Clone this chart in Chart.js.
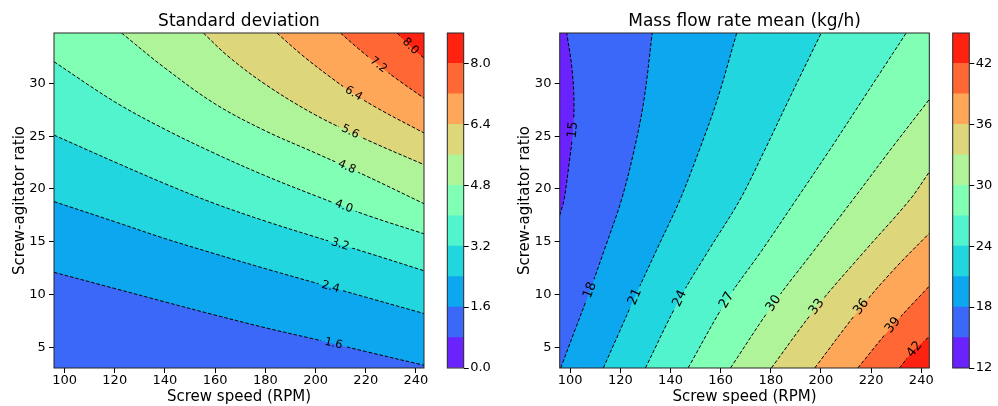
<!doctype html>
<html lang="en">
<head>
<meta charset="UTF-8" />
<title>Contour maps</title>
<style>
  html, body { margin: 0; padding: 0; background: #fff; }
  #wrap { position: relative; width: 998px; height: 406px; }
  canvas { position: absolute; top: 0; }
</style>
</head>
<body>
<div id="wrap">
  <canvas id="sdChart" width="434" height="406" style="left:0px"></canvas>
  <canvas id="sdBar" width="60" height="406" style="left:440px"></canvas>
  <canvas id="mfChart" width="434" height="406" style="left:505px"></canvas>
  <canvas id="mfBar" width="53" height="406" style="left:945px"></canvas>
</div>
<script src="https://cdn.jsdelivr.net/npm/chart.js"></script>
<script>
// axis ranges and ticks
const xMin = 95.8, xMax = 243.2;
const yMin = 3.04, yMax = 34.77;
const xTicks = [100, 120, 140, 160, 180, 200, 220, 240];
const yTicks = [5, 10, 15, 20, 25, 30];

// standard deviation
const sdLevels = [0, 0.8, 1.6, 2.4, 3.2, 4.0, 4.8, 5.6, 6.4, 7.2, 8.0, 8.8];
const sdBarTicks = [0, 1.6, 3.2, 4.8, 6.4, 8.0];
const sdLineLevels = [1.6, 2.4, 3.2, 4.0, 4.8, 5.6, 6.4, 7.2, 8.0];
const sdLines = [
    [[95.8, 12.1], [120, 10.57], [140, 9.3], [160, 8.05], [180, 6.85], [200, 5.75], [220, 4.6], [243.2, 3.3]],
    [[95.8, 18.8], [120, 16.9], [140, 15.3], [160, 13.85], [180, 12.45], [200, 11.1], [220, 9.75], [243.2, 8.2]],
    [[95.8, 25.1], [120, 22.55], [140, 20.5], [160, 18.6], [180, 16.95], [200, 15.45], [220, 14.0], [243.2, 12.25]],
    [[95.8, 32.05], [120, 28.25], [140, 25.65], [160, 23.35], [180, 21.25], [200, 19.35], [220, 17.55], [243.2, 15.75]],
    [[122.7, 34.77], [140, 31.45], [160, 28.05], [180, 25.5], [200, 23.4], [220, 21.25], [243.2, 18.6]],
    [[155.3, 34.77], [165, 32.6], [180, 29.9], [200, 27.0], [220, 24.7], [243.2, 22.3]],
    [[184.6, 34.77], [195, 32.6], [205, 30.75], [215, 29.05], [225, 27.6], [243.2, 25.3]],
    [[209.9, 34.77], [217, 33.3], [225, 31.75], [233, 30.3], [243.2, 28.6]],
    [[232.5, 34.77], [237.8, 33.5], [243.2, 32.4]],
];
const sdLabelAt = [[207.2, 5.4], [205.9, 10.6], [209.9, 14.8], [211.2, 18.3], [212.5, 22.1],
    [213.8, 25.4], [215.2, 29.05], [225.1, 31.75], [237.8, 33.5]];

// mass flow rate mean (kg/h)
const mfLevels = [12, 15, 18, 21, 24, 27, 30, 33, 36, 39, 42, 45];
const mfBarTicks = [12, 18, 24, 30, 36, 42];
const mfLineLevels = [15, 18, 21, 24, 27, 30, 33, 36, 39, 42];
const mfLines = [
    [[95.8, 17.5], [97.5, 18.94], [99.5, 22.3], [101.1, 25.6], [101.5, 28.4], [100.6, 31.6], [98.6, 34.77]],
    [[96.2, 3.04], [102, 6.7], [107.9, 10.41], [114.3, 14.7], [120.4, 18.94], [125.5, 23.7], [129.4, 28.42], [132.7, 34.77]],
    [[113.2, 3.04], [119.5, 6.4], [125.8, 9.78], [134.8, 14.4], [143.7, 18.94], [151.5, 23.7], [158.6, 28.42], [166.4, 34.77]],
    [[130.0, 3.04], [143.7, 9.62], [155.5, 14.3], [167.6, 18.94], [177.6, 23.7], [187.1, 28.42], [200.1, 34.77]],
    [[147.0, 3.04], [162.4, 9.46], [176.5, 14.2], [190.0, 18.94], [203.5, 23.7], [216.5, 28.42], [234.0, 34.77]],
    [[163.9, 3.04], [181.1, 9.15], [197, 14.1], [212.6, 18.94], [228, 23.8], [243.2, 28.48]],
    [[180.2, 3.04], [198.3, 8.83], [217, 14.0], [235.3, 18.94], [243.2, 21.6]],
    [[197.5, 3.04], [216.1, 8.83], [230, 12.6], [243.2, 15.8]],
    [[214.7, 3.04], [228.7, 7.09], [243.2, 10.8]],
    [[231.3, 3.04], [237.3, 4.8], [243.2, 6.0]],
];
const mfLabelAt = [[101.1, 25.6], [107.9, 10.41], [125.8, 9.78], [143.7, 9.62], [162.4, 9.46],
    [181.1, 9.15], [198.3, 8.83], [216.1, 8.83], [228.7, 7.09], [237.3, 4.8]];

Chart.defaults.font.family = '"DejaVu Sans", sans-serif';
const textColor = "#000";
const lineTension = 0.35;

// matplotlib "rainbow" colormap, 256 entries
function rainbow(t) {
    t = Math.min(255, Math.floor(t * 256)) / 255;
    const r = Math.min(1, Math.abs(2 * t - 0.5));
    const g = Math.sin(Math.PI * t);
    const b = Math.cos(Math.PI * t / 2);
    return `rgb(${Math.round(r * 255)},${Math.round(g * 255)},${Math.round(b * 255)})`;
}
const bandColor = (levels, i) => rainbow((i + 0.5) / (levels.length - 1));
const toXY = (pts) => pts.map(([x, y]) => ({ x, y }));

// contour line + plot corners; ends and corners doubled so the
// curve keeps the same shape as the line and the edges stay straight
function closeShape(pts, corners) {
    const shape = pts.concat([pts[pts.length - 1]]);
    corners.forEach((c) => shape.push(c, c));
    return shape;
}

function fillSet(pts, color, order, tension) {
    return { data: toXY(pts), showLine: true, fill: "shape", backgroundColor: color,
        borderWidth: 0, pointRadius: 0, tension, order };
}

// filled bands painted one over another, then the dashed contour lines on top
function contourDatasets(levels, lineLevels, lines, labelAt, corners, fmt) {
    const sets = [];
    const box = [[xMin, yMin], [xMax, yMin], [xMax, yMax], [xMin, yMax]];
    sets.push(fillSet(box, bandColor(levels, levels.indexOf(lineLevels[0]) - 1), 1000, 0));
    lines.forEach((pts, k) => {
        sets.push(fillSet(closeShape(pts, corners), bandColor(levels, levels.indexOf(lineLevels[k])), 999 - k, lineTension));
    });
    lines.forEach((pts, k) => {
        sets.push({ data: toXY(pts), showLine: true, fill: false, borderColor: "#000", borderWidth: 1,
            borderDash: [3.6, 1.9], pointRadius: 0, tension: lineTension, order: 0,
            labelText: fmt(lineLevels[k]), labelAt: labelAt[k] });
    });
    return sets;
}

function placeLabel(chart, index, size) {
    const ds = chart.data.datasets[index];
    const pts = chart.getDatasetMeta(index).data;
    const ax = chart.scales.x.getPixelForValue(ds.labelAt[0]);
    const ay = chart.scales.y.getPixelForValue(ds.labelAt[1]);
    let best = null;
    for (let i = 0; i < pts.length - 1; i++) {
        const p = pts[i], q = pts[i + 1];
        const dx = q.x - p.x, dy = q.y - p.y;
        const len2 = dx * dx + dy * dy || 1;
        const t = Math.max(0, Math.min(1, ((ax - p.x) * dx + (ay - p.y) * dy) / len2));
        const x = p.x + t * dx, y = p.y + t * dy;
        const d = (x - ax) ** 2 + (y - ay) ** 2;
        if (!best || d < best.d) best = { d, x, y, angle: Math.atan2(dy, dx) };
    }
    let a = best.angle;
    if (a > Math.PI / 2) a -= Math.PI;
    if (a < -Math.PI / 2) a += Math.PI;
    const ctx = chart.ctx;
    ctx.save();
    ctx.font = `${size}px "DejaVu Sans"`;
    const width = ctx.measureText(ds.labelText).width;
    ctx.restore();
    return { x: best.x, y: best.y, angle: a, width };
}

// inline contour labels: cut a gap in the line and write the level there
const contourLabels = {
    id: "contourLabels",
    beforeDatasetDraw(chart, args, opts) {
        const ds = chart.data.datasets[args.index];
        if (!ds.labelText) return;
        const lab = placeLabel(chart, args.index, opts.size);
        const ctx = chart.ctx;
        const c = Math.cos(lab.angle), s = Math.sin(lab.angle);
        const hw = lab.width / 2 + 3.5, hh = opts.size * 0.6;
        const pts = [[-hw, -hh], [hw, -hh], [hw, hh], [-hw, hh]]
            .map(([u, v]) => [lab.x + u * c - v * s, lab.y + u * s + v * c]);
        ctx.save();
        ctx.beginPath();
        ctx.rect(0, 0, chart.width, chart.height);
        ctx.moveTo(pts[0][0], pts[0][1]);
        pts.slice(1).forEach((p) => ctx.lineTo(p[0], p[1]));
        ctx.closePath();
        ctx.clip("evenodd");
    },
    afterDatasetDraw(chart, args) {
        if (chart.data.datasets[args.index].labelText) chart.ctx.restore();
    },
    afterDatasetsDraw(chart, args, opts) {
        const ctx = chart.ctx;
        chart.data.datasets.forEach((ds, i) => {
            if (!ds.labelText) return;
            const lab = placeLabel(chart, i, opts.size);
            ctx.save();
            ctx.translate(lab.x, lab.y);
            ctx.rotate(lab.angle);
            ctx.font = `${opts.size}px "DejaVu Sans"`;
            ctx.fillStyle = textColor;
            ctx.textAlign = "center";
            ctx.textBaseline = "middle";
            ctx.fillText(ds.labelText, 0, 0);
            ctx.restore();
        });
    },
};

const frame = {
    id: "frame",
    afterDraw(chart) {
        const { left, top, width, height } = chart.chartArea;
        const ctx = chart.ctx;
        ctx.save();
        ctx.strokeStyle = "#262626";
        ctx.lineWidth = 1;
        ctx.strokeRect(left, top, width, height);
        ctx.restore();
    },
};

const tickGrid = { drawOnChartArea: false, tickLength: 5, tickColor: "#000", tickWidth: 1 };

function contourChart(id, title, datasets, labelSize, yWidth, padRight) {
    return new Chart(document.getElementById(id), {
        type: "scatter",
        data: { datasets },
        options: {
            responsive: false,
            animation: false,
            events: [],
            layout: { padding: { left: 0, right: padRight, top: 0, bottom: 0 } },
            plugins: {
                legend: { display: false },
                tooltip: { enabled: false },
                title: { display: true, text: title, fullSize: false, color: textColor,
                    font: { size: 17, weight: "normal" }, padding: { top: 11, bottom: 1.6 } },
                contourLabels: { size: labelSize },
            },
            scales: {
                x: {
                    type: "linear", min: xMin, max: xMax,
                    afterBuildTicks: (s) => { s.ticks = xTicks.map((v) => ({ value: v })); },
                    afterFit: (s) => { s.height = 38; },
                    grid: tickGrid, border: { display: false },
                    ticks: { color: textColor, font: { size: 13 }, padding: 0, maxRotation: 0, autoSkip: false },
                    title: { display: true, text: "Screw speed (RPM)", color: textColor,
                        font: { size: 15 }, padding: { top: 0, bottom: 0 } },
                },
                y: {
                    type: "linear", min: yMin, max: yMax,
                    afterBuildTicks: (s) => { s.ticks = yTicks.map((v) => ({ value: v })); },
                    afterFit: (s) => { s.width = yWidth; },
                    grid: tickGrid, border: { display: false },
                    ticks: { color: textColor, font: { size: 13 }, padding: 3.3, autoSkip: false },
                    title: { display: true, text: "Screw-agitator ratio", color: textColor,
                        font: { size: 15 }, padding: { top: 10.8, bottom: 0 } },
                },
            },
        },
        plugins: [contourLabels, frame],
    });
}

function colorBar(id, levels, ticks, fmt, padLeft, axisWidth) {
    return new Chart(document.getElementById(id), {
        type: "bar",
        data: {
            labels: [""],
            datasets: levels.slice(0, -1).map((lo, i) => ({
                data: [[lo, levels[i + 1]]], backgroundColor: bandColor(levels, i),
                borderWidth: 0, barPercentage: 1, categoryPercentage: 1, grouped: false,
            })),
        },
        options: {
            responsive: false,
            animation: false,
            events: [],
            layout: { padding: { left: padLeft, right: 0, top: 33, bottom: 38 } },
            plugins: { legend: { display: false }, tooltip: { enabled: false } },
            scales: {
                x: { display: false },
                y: {
                    position: "right", min: levels[0], max: levels[levels.length - 1],
                    afterBuildTicks: (s) => { s.ticks = ticks.map((v) => ({ value: v })); },
                    afterFit: (s) => { s.width = axisWidth; },
                    grid: tickGrid, border: { display: false },
                    ticks: { color: textColor, font: { size: 13 }, padding: 1.5, callback: (v) => fmt(v) },
                },
            },
        },
        plugins: [frame],
    });
}

const sdFmt = (v) => Number(v).toFixed(1);
const mfFmt = (v) => String(v);

contourChart("sdChart", "Standard deviation",
    contourDatasets(sdLevels, sdLineLevels, sdLines, sdLabelAt, [[xMax, yMax], [xMin, yMax]], sdFmt),
    11.5, 54, 10);
colorBar("sdBar", sdLevels, sdBarTicks, sdFmt, 7.3, 36.3);

contourChart("mfChart", "Mass flow rate mean (kg/h)",
    contourDatasets(mfLevels, mfLineLevels, mfLines, mfLabelAt, [[xMax, yMax], [xMax, yMin], [xMin, yMin]], mfFmt),
    13, 54.7, 9.7);
colorBar("mfBar", mfLevels, mfBarTicks, mfFmt, 7.7, 28.7);
</script>
</body>
</html>
